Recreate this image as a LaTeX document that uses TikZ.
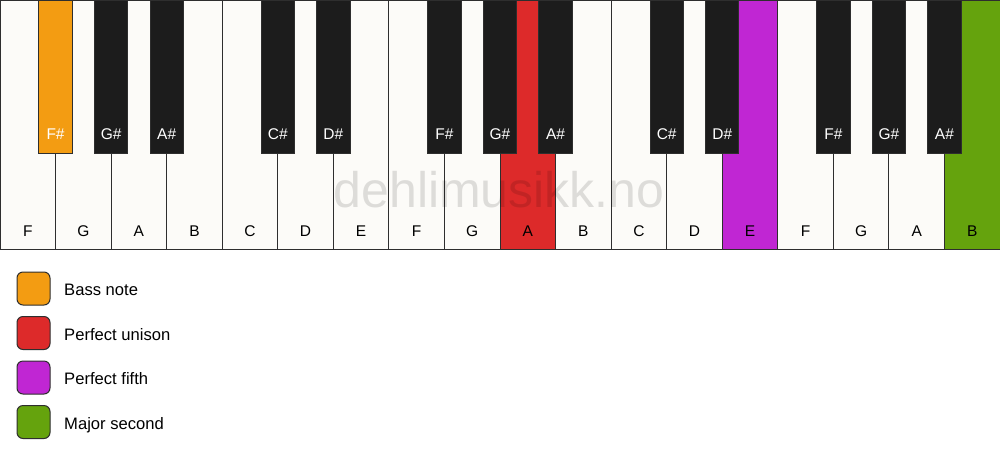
\documentclass[tikz,border=0pt]{standalone}
\usepackage{fontspec}
\setmainfont{Liberation Sans}
\definecolor{keywhite}{HTML}{FCFBF8}
\definecolor{keyblack}{HTML}{1C1C1C}
\definecolor{edge}{HTML}{2E2E2E}
\definecolor{cbass}{HTML}{F39C12}
\definecolor{cuni}{HTML}{DD2A2A}
\definecolor{cfifth}{HTML}{C026D3}
\definecolor{csecond}{HTML}{65A30D}
\tikzset{
  wkey/.style={draw=edge, line width=1pt, anchor=north west, minimum width=55.556pt, minimum height=249pt, inner sep=0pt, outer sep=0pt},
  bkey/.style={draw=edge, line width=1pt, anchor=north west, minimum width=33.33pt, minimum height=153pt, inner sep=0pt, outer sep=0pt},
  wlab/.style={anchor=base, inner sep=0pt, font=\fontsize{15.5}{18}\selectfont, text=black},
  blab/.style={anchor=base, inner sep=0pt, font=\fontsize{15.5}{18}\selectfont, text=white},
  legbox/.style={draw=edge, line width=1pt, rounded corners=6pt, minimum width=33pt, minimum height=33pt, inner sep=0pt},
  legtext/.style={anchor=base west, inner sep=0pt, font=\fontsize{16.6}{20}\selectfont, text=black},
  wmark/.style={anchor=base, inner sep=0pt, font=\fontsize{50}{56}\selectfont, text=black, text opacity=0.12}
}
\begin{document}
\begin{tikzpicture}[x=1pt,y=-1pt]
\useasboundingbox (0,0) rectangle (1000,461);
\fill[white] (0,0) rectangle (1000,461);
% white keys
\foreach \i/\n/\c in {0/F/keywhite,1/G/keywhite,2/A/keywhite,3/B/keywhite,4/C/keywhite,5/D/keywhite,6/E/keywhite,7/F/keywhite,8/G/keywhite,9/A/cuni,10/B/keywhite,11/C/keywhite,12/D/keywhite,13/E/cfifth,14/F/keywhite,15/G/keywhite,16/A/keywhite,17/B/csecond}{
  \node[wkey, fill=\c] (w\i) at (\i*55.556,0) {};
  \node[wlab] (wl\i) at (\i*55.556+27.778,236) {\n};
}
% black keys
\foreach \i/\n/\c in {1/F\#/cbass,2/G\#/keyblack,3/A\#/keyblack,5/C\#/keyblack,6/D\#/keyblack,8/F\#/keyblack,9/G\#/keyblack,10/A\#/keyblack,12/C\#/keyblack,13/D\#/keyblack,15/F\#/keyblack,16/G\#/keyblack,17/A\#/keyblack}{
  \node[bkey, fill=\c] (b\i) at (\i*55.556-16.667,0) {};
  \node[blab] (bl\i) at (\i*55.556,139) {\n};
}
% watermark
\node[wmark] (wm) at (499,207) {dehlimusikk.no};
% legend
\foreach \k/\c/\t in {1/cbass/Bass note,2/cuni/Perfect unison,3/cfifth/Perfect fifth,4/csecond/Major second}{
  \node[legbox, fill=\c] (l\k) at (33.5,{288.5+(\k-1)*44.5}) {};
  \node[legtext] (t\k) at (64,{295.7+(\k-1)*44.5}) {\t};
}
\end{tikzpicture}
\end{document}
